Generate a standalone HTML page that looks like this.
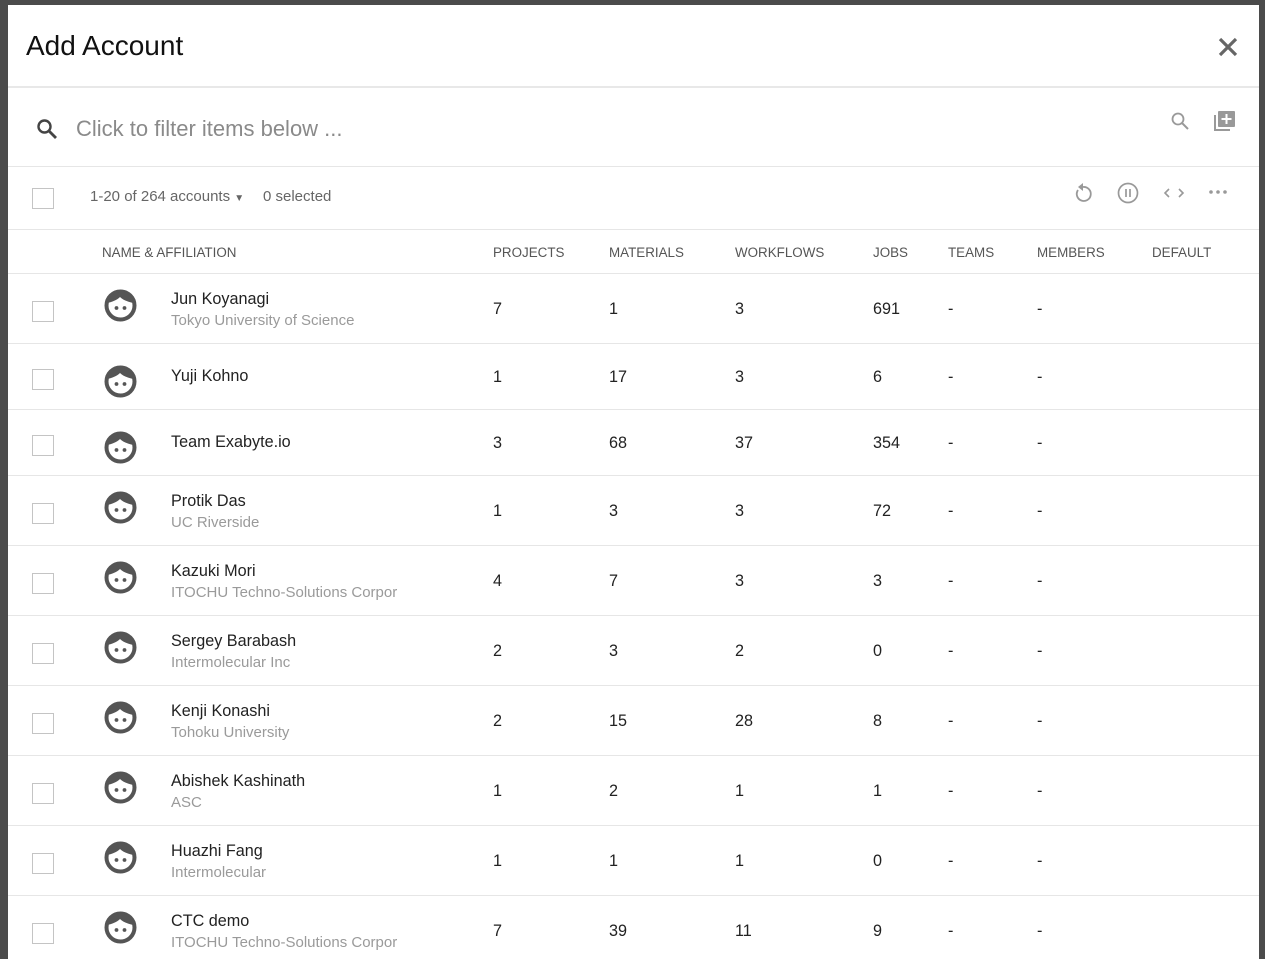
<!DOCTYPE html>
<html style="overflow:hidden"><head><style>
*{margin:0;padding:0;box-sizing:border-box}
html,body{width:1265px;height:959px;overflow:hidden}
body{background:#4b4b4b;position:relative;font-family:"Liberation Sans",sans-serif}
#p{position:absolute;left:8px;top:5px;width:1251px;height:960px;background:#fff}
.a{position:absolute;white-space:nowrap}
.hl{position:absolute;left:8px;width:1251px;height:1px;background:#e6e6e6}
.cb{position:absolute;left:32px;width:22px;height:21px;border:1px solid #c4c4c4;background:#fff}
.n{font-size:16.2px;color:#222}
.s{font-size:15px;color:#9a9a9a}
.h{font-size:13.4px;color:#555;top:245px}
.av{position:absolute;left:104px;width:33px;height:33px}
</style></head><body>
<div id="p"></div>
<div class="a" style="left:26px;top:30px;font-size:28px;color:#111">Add Account</div>
<svg class="a" style="left:1217px;top:36px" width="22" height="22"><path d="M3 3L19 19M19 3L3 19" stroke="#666" stroke-width="3.2"/></svg>
<div class="hl" style="top:86px;height:2px;background:#e8e8e8"></div>
<svg class="a" style="left:36px;top:118px" width="22" height="22"><circle cx="8.5" cy="8.5" r="6" stroke="#444" stroke-width="2.4" fill="none"/><path d="M13 13L20 20" stroke="#444" stroke-width="2.8"/></svg>
<div class="a" style="left:76px;top:116px;font-size:22px;color:#8a8a8a">Click to filter items below ...</div>
<svg class="a" style="left:1170px;top:111px" width="20" height="20"><circle cx="8" cy="8" r="5.5" stroke="#999" stroke-width="1.8" fill="none"/><path d="M12 12L18 18" stroke="#999" stroke-width="2"/></svg>
<svg class="a" style="left:1213px;top:110px" width="24" height="22"><rect x="1" y="5" width="2" height="16" fill="#999"/><rect x="1" y="19" width="16" height="2" fill="#999"/><rect x="5" y="1" width="17" height="16" rx="1" fill="#999"/><path d="M13.5 4v10M8.5 9h10" stroke="#fff" stroke-width="2"/></svg>
<div class="hl" style="top:166px"></div>
<div class="cb" style="top:188px"></div>
<div class="a" style="left:90px;top:188px;font-size:15px;color:#666">1-20 of 264 accounts <span style="font-size:10px">▼</span></div>
<div class="a" style="left:263px;top:188px;font-size:15px;color:#666">0 selected</div>
<svg class="a" style="left:1072px;top:182px" width="22" height="22"><path d="M6 8A7 7 0 1 0 11 5" stroke="#999" stroke-width="1.8" fill="none"/><path d="M11 1L11 9L6 5Z" fill="#999"/></svg>
<svg class="a" style="left:1117px;top:182px" width="22" height="22"><circle cx="11" cy="11" r="9.5" stroke="#999" stroke-width="1.7" fill="none"/><path d="M9 7v8M13 7v8" stroke="#999" stroke-width="1.7"/></svg>
<svg class="a" style="left:1163px;top:186px" width="22" height="14"><path d="M6 3L2 7L6 11M16 3L20 7L16 11" stroke="#999" stroke-width="1.6" fill="none"/></svg>
<svg class="a" style="left:1208px;top:188px" width="22" height="8"><circle cx="3" cy="4" r="1.8" fill="#999"/><circle cx="10" cy="4" r="1.8" fill="#999"/><circle cx="17" cy="4" r="1.8" fill="#999"/></svg>
<div class="hl" style="top:229px"></div>
<div class="a h" style="left:102px">NAME &amp; AFFILIATION</div>
<div class="a h" style="left:493px">PROJECTS</div>
<div class="a h" style="left:609px">MATERIALS</div>
<div class="a h" style="left:735px">WORKFLOWS</div>
<div class="a h" style="left:873px">JOBS</div>
<div class="a h" style="left:948px">TEAMS</div>
<div class="a h" style="left:1037px">MEMBERS</div>
<div class="a h" style="left:1152px">DEFAULT</div>
<div class="hl" style="top:273px"></div>
<div id="rows"></div>
<script>
var R=[["Jun Koyanagi","Tokyo University of Science","7","1","3","691",273,343],
["Yuji Kohno","","1","17","3","6",343,409],
["Team Exabyte.io","","3","68","37","354",409,475],
["Protik Das","UC Riverside","1","3","3","72",475,545],
["Kazuki Mori","ITOCHU Techno-Solutions Corpor","4","7","3","3",545,615],
["Sergey Barabash","Intermolecular Inc","2","3","2","0",615,685],
["Kenji Konashi","Tohoku University","2","15","28","8",685,755],
["Abishek Kashinath","ASC","1","2","1","1",755,825],
["Huazhi Fang","Intermolecular","1","1","1","0",825,895],
["CTC demo","ITOCHU Techno-Solutions Corpor","7","39","11","9",895,965]];
var h="";
R.forEach(function(r){var t=r[6],b=r[7],two=r[1]!="";
var mid=two?t+35:t+33;
h+='<div class="cb" style="top:'+(mid-7)+'px"></div>';
var at=two?t+16:t+22;
h+='<svg class="av" style="top:'+at+'px" viewBox="0 0 33 33"><circle cx="16.5" cy="16.5" r="14" stroke="#555" stroke-width="4" fill="#fff"/><path d="M3 14C6 6 12 3 17 3C23 3 29 7 30 14C24 13 19 11 16 8C13 11 8 13 3 14Z" fill="#555"/><circle cx="12.5" cy="19" r="1.9" fill="#555"/><circle cx="20.5" cy="19" r="1.9" fill="#555"/></svg>';
if(two){h+='<div class="a n" style="left:171px;top:'+(t+17)+'px">'+r[0]+'</div><div class="a s" style="left:171px;top:'+(t+39)+'px">'+r[1]+'</div>';}
else h+='<div class="a n" style="left:171px;top:'+(t+24)+'px">'+r[0]+'</div>';
var vt=two?t+27:t+25;
[[493,r[2]],[609,r[3]],[735,r[4]],[873,r[5]],[948,"-"],[1037,"-"]].forEach(function(c){h+='<div class="a n" style="left:'+c[0]+'px;top:'+vt+'px">'+c[1]+'</div>';});
h+='<div class="hl" style="top:'+b+'px"></div>';});
document.getElementById("rows").innerHTML=h;
</script>
</body></html>
